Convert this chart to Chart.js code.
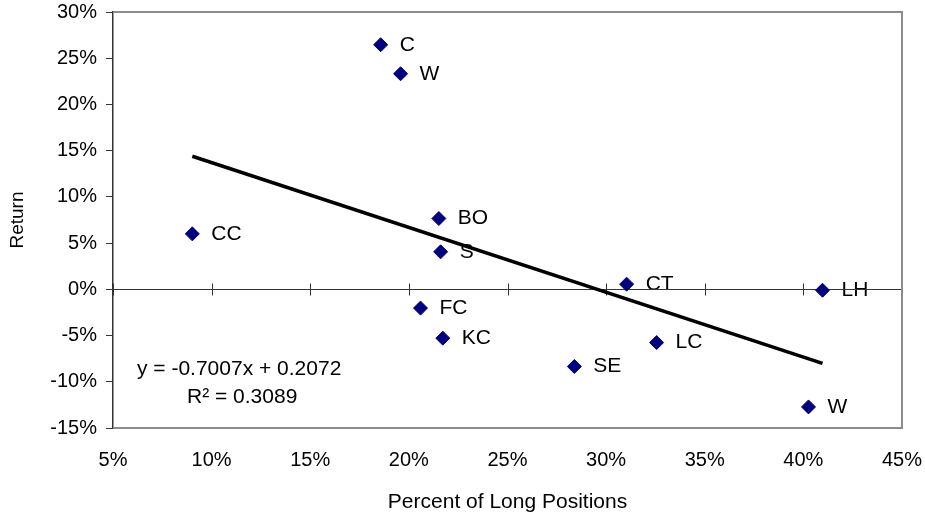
<!DOCTYPE html>
<html>
<head>
<meta charset="utf-8">
<script src="https://cdn.jsdelivr.net/npm/chart.js@4.4.0/dist/chart.umd.min.js"></script>
<style>
  body { margin: 0; background: #fff; }
  #wrap { width: 925px; height: 516px; }
</style>
</head>
<body>
<div id="wrap"><canvas id="chart" width="925" height="516"></canvas></div>
<script>
// dados (em %)
const labels = ['C', 'W', 'BO', 'S', 'CC', 'FC', 'KC', 'SE', 'CT', 'LC', 'LH', 'W'];
const longPct = [18.57, 19.58, 21.52, 21.61, 9.02, 20.59, 21.72, 28.39, 31.04, 32.56, 40.97, 40.26];
const returns = [26.46, 23.32, 7.66, 4.06, 6.0, -2.03, -5.28, -8.35, 0.56, -5.76, -0.1, -12.72];

// linha de tendência (extremos)
const trendX = [9.02, 40.97];
const trendY = [14.4, -8.0];

const xTicks = [5, 10, 15, 20, 25, 30, 35, 40, 45];
const yTicks = [-15, -10, -5, 0, 5, 10, 15, 20, 25, 30];
const eqText = ['y = -0.7007x + 0.2072', 'R² = 0.3089'];

const FONT = '"Liberation Sans", Arial, sans-serif';

// rótulos, linha do zero e moldura
const extras = {
  id: 'extras',
  beforeDatasetsDraw(chart) {
    const { ctx, chartArea: a, scales: { x, y } } = chart;
    ctx.save();
    // rótulos dos pontos
    ctx.font = '21px ' + FONT;
    ctx.fillStyle = '#000';
    ctx.textBaseline = 'middle';
    ctx.textAlign = 'left';
    labels.forEach((t, i) => {
      ctx.fillText(t, x.getPixelForValue(longPct[i]) + 19, y.getPixelForValue(returns[i]));
    });
    // eixo no zero com marcas
    const y0 = Math.round(y.getPixelForValue(0)) + 0.5;
    ctx.strokeStyle = '#333';
    ctx.lineWidth = 1;
    ctx.beginPath();
    ctx.moveTo(a.left, y0);
    ctx.lineTo(a.right, y0);
    xTicks.forEach(v => {
      const px = Math.round(x.getPixelForValue(v)) + 0.5;
      ctx.moveTo(px, y0 - 6);
      ctx.lineTo(px, y0 + 6);
    });
    ctx.stroke();
    // moldura cinza
    ctx.strokeStyle = '#8c8c8c';
    ctx.lineWidth = 2;
    ctx.beginPath();
    ctx.moveTo(a.left, a.top);
    ctx.lineTo(a.right, a.top);
    ctx.lineTo(a.right, a.bottom);
    ctx.lineTo(a.left, a.bottom);
    ctx.stroke();
    ctx.restore();
  },
  afterDatasetsDraw(chart) {
    const { ctx, chartArea: a } = chart;
    ctx.save();
    ctx.font = '21px ' + FONT;
    ctx.fillStyle = '#000';
    ctx.textBaseline = 'middle';
    ctx.textAlign = 'left';
    ctx.fillText(eqText[0], a.left + 24, a.top + 357);
    ctx.fillText(eqText[1], a.left + 74, a.top + 385);
    ctx.restore();
  }
};

new Chart(document.getElementById('chart'), {
  type: 'scatter',
  data: {
    datasets: [
      {
        label: 'Trend',
        type: 'line',
        data: trendX.map((v, i) => ({ x: v, y: trendY[i] })),
        borderColor: '#000',
        borderWidth: 3.5,
        pointRadius: 0,
        fill: false,
        order: 0
      },
      {
        label: 'Return',
        data: longPct.map((v, i) => ({ x: v, y: returns[i] })),
        pointStyle: 'rectRot',
        pointRadius: 7,
        backgroundColor: '#000080',
        borderColor: '#000080',
        borderWidth: 1,
        order: 1
      }
    ]
  },
  options: {
    responsive: false,
    animation: false,
    layout: { padding: { top: 12, right: 23, left: 0, bottom: 0 } },
    plugins: { legend: { display: false }, tooltip: { enabled: false } },
    scales: {
      x: {
        type: 'linear',
        min: 5, max: 45,
        afterBuildTicks: s => { s.ticks = xTicks.map(v => ({ value: v })); },
        afterFit: s => { s.height = 88; s.paddingLeft = 0; s.paddingRight = 0; },
        ticks: { callback: v => v + '%', color: '#000', font: { family: FONT, size: 20 }, padding: 20, maxRotation: 0 },
        grid: { display: false, drawTicks: false },
        border: { display: false },
        title: { display: true, text: 'Percent of Long Positions', color: '#000', font: { family: FONT, size: 21 }, padding: { top: 0, bottom: 1 } }
      },
      y: {
        min: -15, max: 30,
        afterBuildTicks: s => { s.ticks = yTicks.map(v => ({ value: v })); },
        afterFit: s => { s.width = 113; s.paddingTop = 0; s.paddingBottom = 0; },
        ticks: { callback: v => v + '%', color: '#000', font: { family: FONT, size: 20 }, padding: 9 },
        grid: { drawOnChartArea: false, drawTicks: true, tickLength: 7, color: '#333' },
        border: { display: true, color: '#333', width: 1.5 },
        title: { display: true, text: 'Return', color: '#000', font: { family: FONT, size: 19 }, padding: { top: 6, bottom: 0 } }
      }
    }
  },
  plugins: [extras]
});
</script>
</body>
</html>
